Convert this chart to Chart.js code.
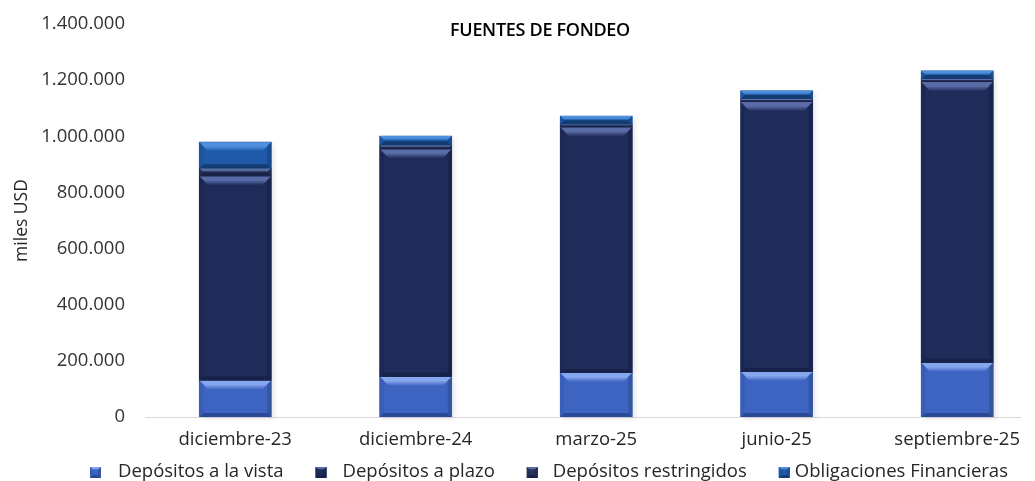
<!DOCTYPE html>
<html>
<head>
<meta charset="utf-8">
<script src="https://cdn.jsdelivr.net/npm/chart.js@4/dist/chart.umd.min.js"></script>
<style>
  html, body { margin: 0; padding: 0; background: #ffffff; overflow: hidden; }
  #wrap { width: 1035px; height: 481px; position: relative; }
</style>
</head>
<body>
<div id="wrap"><canvas id="c"></canvas></div>
<script>
// ---- data ----
const categories = ['diciembre-23', 'diciembre-24', 'marzo-25', 'junio-25', 'septiembre-25'];
const depositosVista = [130000, 143000, 157000, 161000, 193000];
const depositosPlazo = [728000, 811000, 875000, 961000, 1000000];
const depositosRestringidos = [28000, 14000, 11000, 11000, 11000];
const obligacionesFinancieras = [93000, 33000, 29000, 29000, 29000];
const yTicks = [0, 200000, 400000, 600000, 800000, 1000000, 1200000, 1400000];
const chartTitle = 'FUENTES DE FONDEO';
const yTitle = 'miles USD';
const seriesLabels = ['Depósitos a la vista', 'Depósitos a plazo', 'Depósitos restringidos', 'Obligaciones Financieras'];

const FONT = '"Open Sans", "DejaVu Sans", sans-serif';

// bevel palettes: [base, top, bottom, left, right]
const palettes = [
  ['#3e64c2', '#86a6ee', '#2a4a98', '#395db6', '#33569e'],
  ['#1f2c5a', '#5a6ca8', '#17214a', '#1c2853', '#19244c'],
  ['#27345f', '#5e6fa5', '#1a2448', '#243058', '#202b50'],
  ['#1e5aa8', '#4f90de', '#123c72', '#1c54a0', '#184b8e']
];

function fmt(v) {
  return String(Math.round(v)).replace(/\B(?=(\d{3})+(?!\d))/g, '.');
}
function toXY(arr) { return arr.map((v, i) => ({ x: i, y: v })); }

function drawBevel(ctx, l, t, r, b, pal, size) {
  const h = b - t, w = r - l;
  const s = Math.max(0, Math.min(size, h / 2, w / 2));
  ctx.save();
  ctx.fillStyle = pal[0];
  ctx.fillRect(l, t, w, h);
  if (s > 0.5) {
    const gTop = ctx.createLinearGradient(0, t, 0, t + s);
    gTop.addColorStop(0, pal[1]);
    gTop.addColorStop(0.45, pal[1]);
    gTop.addColorStop(1, pal[0]);
    ctx.fillStyle = gTop;
    ctx.beginPath(); ctx.moveTo(l, t); ctx.lineTo(r, t); ctx.lineTo(r - s, t + s); ctx.lineTo(l + s, t + s); ctx.closePath(); ctx.fill();
    const bs = Math.min(s, 4);
    ctx.fillStyle = pal[2];
    ctx.beginPath(); ctx.moveTo(l, b); ctx.lineTo(r, b); ctx.lineTo(r - bs, b - bs); ctx.lineTo(l + bs, b - bs); ctx.closePath(); ctx.fill();
    const ss = Math.min(s, 4);
    ctx.fillStyle = pal[3];
    ctx.beginPath(); ctx.moveTo(l, t); ctx.lineTo(l + ss, t + ss); ctx.lineTo(l + ss, b - bs); ctx.lineTo(l, b); ctx.closePath(); ctx.fill();
    ctx.fillStyle = pal[4];
    ctx.beginPath(); ctx.moveTo(r, t); ctx.lineTo(r - ss, t + ss); ctx.lineTo(r - ss, b - bs); ctx.lineTo(r, b); ctx.closePath(); ctx.fill();
  }
  ctx.restore();
}

const bevelPlugin = {
  id: 'bevel',
  beforeDatasetsDraw(chart) {
    const ctx = chart.ctx;
    chart.data.datasets.forEach((ds, di) => {
      const meta = chart.getDatasetMeta(di);
      meta.data.forEach(el => {
        const p = el.getProps(['x', 'y', 'base', 'width'], true);
        const l = p.x - p.width / 2, t = Math.min(p.y, p.base), b = Math.max(p.y, p.base);
        ctx.save();
        ctx.fillStyle = 'rgba(0,0,0,0.09)';
        ctx.filter = 'blur(2px)';
        ctx.fillRect(l + 3, t + 2, p.width, b - t);
        ctx.restore();
      });
    });
  },
  afterDatasetsDraw(chart) {
    const ctx = chart.ctx;
    chart.data.datasets.forEach((ds, di) => {
      const meta = chart.getDatasetMeta(di);
      meta.data.forEach(el => {
        const p = el.getProps(['x', 'y', 'base', 'width'], true);
        const l = p.x - p.width / 2, r = p.x + p.width / 2;
        const t = Math.min(p.y, p.base), b = Math.max(p.y, p.base);
        drawBevel(ctx, l, t, r, b, palettes[di], 9);
      });
    });
  }
};

const titleLegendPlugin = {
  id: 'titleLegend',
  afterDraw(chart) {
    const ctx = chart.ctx;
    ctx.save();
    ctx.font = '600 18px ' + FONT;
    ctx.fillStyle = '#000000';
    ctx.textAlign = 'center';
    ctx.textBaseline = 'middle';
    try { ctx.letterSpacing = '-0.3px'; } catch (e) {}
    ctx.fillText(chartTitle, 540, 31);
    try { ctx.letterSpacing = '0px'; } catch (e) {}
    ctx.font = '18.5px ' + FONT;
    ctx.textAlign = 'left';
    const gapsAfterMarker = [17, 16, 15, 5];
    let x = 90;
    const yMid = 472;
    chart.data.datasets.forEach((ds, i) => {
      drawBevel(ctx, x, yMid - 5, x + 11, yMid + 6, palettes[i], 3);
      x += 11 + gapsAfterMarker[i];
      ctx.fillStyle = '#262626';
      ctx.fillText(ds.label, x, yMid);
      x += ctx.measureText(ds.label).width + 32;
    });
    ctx.restore();
  }
};

const ctx = document.getElementById('c');
new Chart(ctx, {
  type: 'bar',
  data: {
    datasets: [
      { label: seriesLabels[0], data: toXY(depositosVista), backgroundColor: palettes[0][0] },
      { label: seriesLabels[1], data: toXY(depositosPlazo), backgroundColor: palettes[1][0] },
      { label: seriesLabels[2], data: toXY(depositosRestringidos), backgroundColor: palettes[2][0] },
      { label: seriesLabels[3], data: toXY(obligacionesFinancieras), backgroundColor: palettes[3][0] }
    ]
  },
  options: {
    responsive: true,
    maintainAspectRatio: false,
    animation: false,
    layout: { padding: { top: 24, right: 15, bottom: 22, left: 0 } },
    datasets: { bar: { barThickness: 72 } },
    plugins: {
      legend: { display: false },
      title: { display: false },
      tooltip: { enabled: false }
    },
    scales: {
      x: {
        type: 'linear',
        stacked: true,
        offset: false,
        min: -0.5,
        max: 4.348,
        grid: { display: false, drawTicks: false, offset: false },
        border: { display: true, color: '#d9d9d9', width: 1 },
        afterBuildTicks: (scale) => { scale.ticks = categories.map((_, i) => ({ value: i })); },
        ticks: {
          autoSkip: false,
          maxRotation: 0,
          padding: 12,
          color: '#262626',
          font: { family: FONT, size: 18.5 },
          callback: (v) => categories[v]
        },
        afterFit: (scale) => { scale.height = 42; scale.paddingLeft = 0; scale.paddingRight = 0; }
      },
      y: {
        stacked: true,
        min: 0,
        max: 1400000,
        grid: { display: false, drawTicks: false },
        border: { display: false },
        afterBuildTicks: (scale) => { scale.ticks = yTicks.map(v => ({ value: v })); },
        ticks: {
          padding: 20,
          color: '#333333',
          font: { family: FONT, size: 18.5 },
          callback: (v) => fmt(v)
        },
        title: {
          display: true,
          text: yTitle,
          color: '#262626',
          font: { family: FONT, size: 17.5 },
          padding: { top: 12, bottom: 0 }
        },
        afterFit: (scale) => { scale.width = 145; scale.paddingTop = 0; scale.paddingBottom = 0; }
      }
    }
  },
  plugins: [bevelPlugin, titleLegendPlugin]
});
</script>
</body>
</html>
